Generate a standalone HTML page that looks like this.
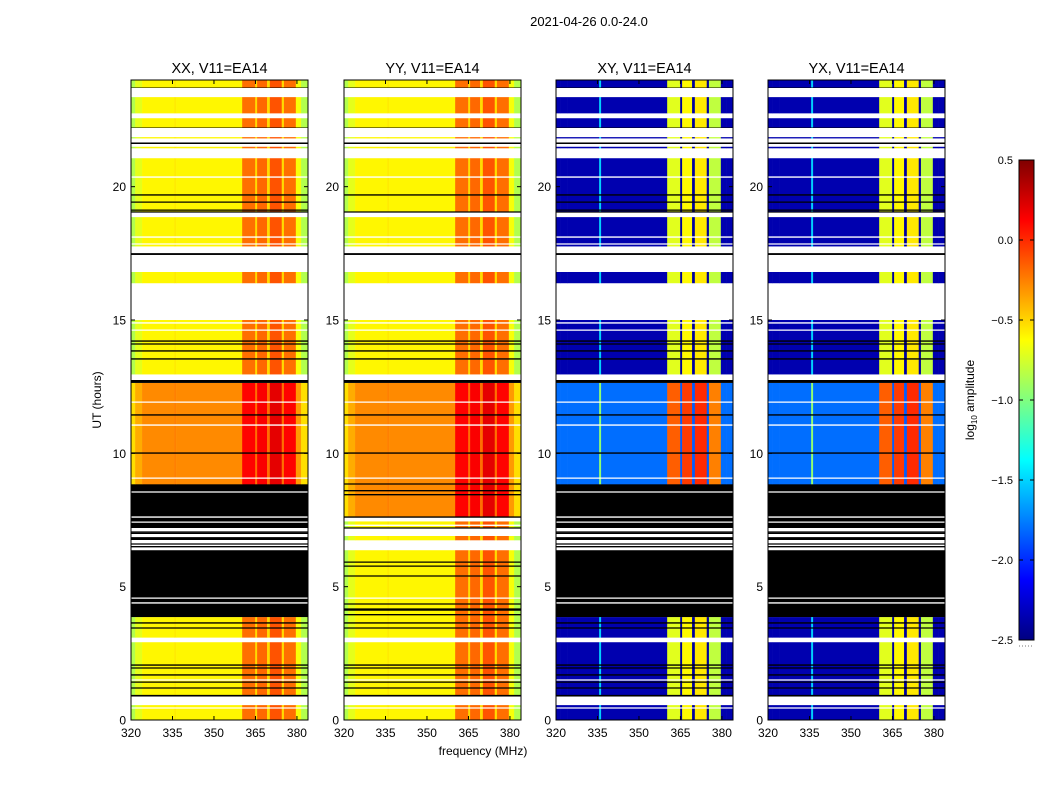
<!DOCTYPE html>
<html><head><meta charset="utf-8">
<style>
body{margin:0;background:#fff;}
svg text{font-family:"Liberation Sans","DejaVu Sans",sans-serif;fill:#000;}
</style></head>
<body>
<svg id="chart" width="1050" height="800" viewBox="0 0 1050 800" xmlns="http://www.w3.org/2000/svg">
<rect width="1050" height="800" fill="#fff"/>
<text x="589" y="26" font-size="13" text-anchor="middle">2021-04-26 0.0-24.0</text>
<text x="483" y="755" font-size="12" text-anchor="middle">frequency (MHz)</text>
<text transform="translate(101,400) rotate(-90)" font-size="12" text-anchor="middle">UT (hours)</text>
<g id="panels"></g>
<g id="cbar"></g>
</svg>
<script>
// ---- data ----
const freqEdges = [320,321.5,324,335.6,336.3,360.2,364.9,365.6,369.2,370.2,374.5,375.3,379.6,381.5,384];
const parOffset = [-0.25,-0.1,0,0.03,0,0.4,0.08,0.42,0.08,0.48,0.08,0.4,-0.05,-0.25];
const crossOffset = [0,0,0,0.85,0,1.65,-0.05,1.75,-0.05,1.8,-0.05,1.55,0,0];
const parLevels = [-0.6,-0.28];
const crossLevels = [-2.36,-1.8];
// bands: [startHour, endHour, kind, levelIndex]
const bandsXX = [
 [0,0.56,'d',0],[0.56,0.88,'w',0],[0.88,0.94,'k',0],[0.94,2.92,'d',0],[2.92,3.1,'w',0],[3.1,3.86,'d',0],
 [3.86,6.37,'k',0],[6.37,6.75,'w',0],[6.75,6.86,'k',0],[6.86,7.2,'w',0],[7.2,8.85,'k',0],
 [8.85,12.64,'d',1],[12.64,12.75,'k',0],[12.75,12.97,'w',0],[12.97,15.0,'d',0],[15.0,16.39,'w',0],
 [16.39,16.8,'d',0],[16.8,17.44,'w',0],[17.44,17.51,'k',0],[17.51,17.77,'w',0],[17.77,18.86,'d',0],
 [18.86,19.05,'w',0],[19.05,21.07,'d',0],[21.07,21.45,'w',0],[21.45,21.5,'d',0],[21.5,21.6,'w',0],
 [21.6,21.66,'k',0],[21.66,21.82,'w',0],[21.82,21.86,'d',0],[21.86,22.2,'w',0],[22.2,22.23,'k',0],
 [22.23,22.57,'d',0],[22.57,22.76,'w',0],[22.76,23.36,'d',0],[23.36,23.7,'w',0],[23.7,23.73,'k',0],[23.73,24,'d',0]
];
const bandsYYlow = [
 [3.86,6.37,'d',0],[6.37,6.75,'w',0],[6.75,6.9,'d',0],[6.9,7.2,'w',0],[7.2,7.45,'d',0],[7.45,7.61,'w',0],[7.61,8.85,'d',1]
];
const blackLinesXX = [19.69,19.42,19.12,19.05,14.21,14.1,13.84,13.54,12.7,11.44,10.01,3.64,3.45,2.06,1.95,1.69,1.42,1.2,0.92,6.5,6.6,7.0,7.05,17.47];
const whiteLinesXX = [20.36,18.11,17.85,14.89,14.62,11.92,11.06,9.07,8.55,7.61,7.42,4.57,4.39,1.5,0.45,22.65];
const blackLinesYY = [19.69,19.05,14.21,14.1,13.84,13.54,12.7,11.44,10.01,8.85,8.6,8.45,7.61,7.2,5.92,5.77,5.4,4.35,4.16,4.12,3.95,3.64,3.45,2.06,1.95,1.69,1.42,1.2,0.92,17.47];
const whiteLinesYY = [20.36,18.11,17.85,14.89,14.62,11.92,11.06,9.07,7.3,7.05,6.6,4.57,1.5,0.45,22.65];
const panelTitles = ["XX, V11=EA14","YY, V11=EA14","XY, V11=EA14","YX, V11=EA14"];
const xTicks = [320,335,350,365,380];
const yTicks = [0,5,10,15,20];
const cbarTicks = [0.5,0.0,-0.5,-1.0,-1.5,-2.0,-2.5];
const cbarTickLabels = ["0.5","0.0","\u22120.5","\u22121.0","\u22121.5","\u22122.0","\u22122.5"];

// ---- layout ----
const NS="http://www.w3.org/2000/svg";
const panelLeft=[131,344,556,768], PW=177, PT=80, PB=720;
const vmin=-2.5, vmax=0.5;
function jet(v){
  let x=(v-vmin)/(vmax-vmin); x=Math.max(0,Math.min(1,x));
  const c=t=>Math.round(255*Math.max(0,Math.min(1,1.5-Math.abs(4*x-t))));
  return `rgb(${c(3)},${c(2)},${c(1)})`;
}
function el(tag,attrs,parent){const e=document.createElementNS(NS,tag);for(const k in attrs)e.setAttribute(k,attrs[k]);parent.appendChild(e);return e;}
const yScale=h=>PB-(h/24)*(PB-PT);
const panelsG=document.getElementById('panels');

panelTitles.forEach((title,pi)=>{
  const L=panelLeft[pi];
  const xScale=f=>L+(f-320)/(384-320)*PW;
  const g=el('g',{},panelsG);
  
  
  const cross=pi>=2;
  const offs=cross?crossOffset:parOffset;
  const levels=cross?crossLevels:parLevels;
  let bands=bandsXX.slice();
  if(pi===1){bands=bands.filter(b=>!(b[0]>=3.86&&b[1]<=8.85)).concat(bandsYYlow);}
  bands.forEach(b=>{
    const y0=yScale(b[1]), y1=yScale(b[0]);
    if(b[2]==='d'){
      for(let s=0;s<offs.length;s++){
        const r=el('rect',{x:xScale(freqEdges[s]),y:y0,width:xScale(freqEdges[s+1])-xScale(freqEdges[s])+0.3,height:y1-y0+0.3,fill:jet(levels[b[3]]+offs[s])},g);
        
        
      }
    } else {
      const r=el('rect',{x:L,y:y0,width:PW,height:y1-y0,fill:b[2]==='w'?'#fff':'#000'},g);
      
      
    }
  });
  const bl=pi===1?blackLinesYY:blackLinesXX, wl=pi===1?whiteLinesYY:whiteLinesXX;
  wl.forEach(h=>{const l=el('line',{x1:L,x2:L+PW,y1:yScale(h),y2:yScale(h),stroke:'#fff','stroke-width':1.3},g);
    });
  bl.forEach(h=>{const l=el('line',{x1:L,x2:L+PW,y1:yScale(h),y2:yScale(h),stroke:'#000','stroke-width':1.3},g);
    });
  const fr=el('rect',{x:L,y:PT,width:PW,height:PB-PT,fill:'none',stroke:'#000','stroke-width':1},g);
  
  xTicks.forEach(t=>{
    const x=xScale(t);
    el('line',{x1:x,x2:x,y1:PB,y2:PB-4,stroke:'#000'},g);
    el('line',{x1:x,x2:x,y1:PT,y2:PT+4,stroke:'#000'},g);
    const tx=el('text',{x:x,y:PB+17,'font-size':12,'text-anchor':'middle'},g);tx.textContent=t;
    
  });
  yTicks.forEach(t=>{
    const y=yScale(t);
    el('line',{x1:L,x2:L+4,y1:y,y2:y,stroke:'#000'},g);
    el('line',{x1:L+PW,x2:L+PW-4,y1:y,y2:y,stroke:'#000'},g);
    const tx=el('text',{x:L-5,y:y+4.5,'font-size':12,'text-anchor':'end'},g);tx.textContent=t;
    
  });
  const tt=el('text',{x:L+PW/2,y:73,'font-size':14.5,'text-anchor':'middle'},g);tt.textContent=title;
  
});

// colorbar
const cb=document.getElementById('cbar');


const CX=1019,CW=15,CT=160,CB=640;
const defs=el('defs',{},cb);
const lg=el('linearGradient',{id:'jetg',x1:0,y1:1,x2:0,y2:0},defs);
for(let i=0;i<=24;i++){const v=vmin+(vmax-vmin)*i/24;el('stop',{offset:(i/24),'stop-color':jet(v)},lg);}
el('rect',{x:CX,y:CT,width:CW,height:CB-CT,fill:'url(#jetg)',stroke:'#000'},cb);
const cy=v=>CB-(v-vmin)/(vmax-vmin)*(CB-CT);
cbarTicks.forEach((v,i)=>{
  el('line',{x1:CX,x2:CX+4,y1:cy(v),y2:cy(v),stroke:'#000'},cb);
  el('line',{x1:CX+CW,x2:CX+CW-4,y1:cy(v),y2:cy(v),stroke:'#000'},cb);
  const t=el('text',{x:CX-6,y:cy(v)+4,'font-size':11,'text-anchor':'end'},cb);t.textContent=cbarTickLabels[i];
  
});
const cl=el('text',{transform:'translate(974,400) rotate(-90)','font-size':12,'text-anchor':'middle'},cb);
cl.innerHTML='log<tspan font-size="8" dy="3">10</tspan><tspan dy="-3"> amplitude</tspan>';


el('line',{x1:CX,x2:CX+CW,y1:646,y2:646,stroke:'#777','stroke-dasharray':'1,2'},cb);
</script>
</body></html>
